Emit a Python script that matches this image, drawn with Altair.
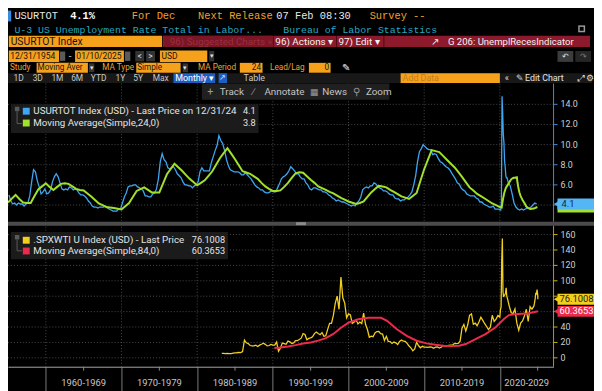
import altair as alt
import pandas as pd

# ------------------------------------------------------------------ data
# US unemployment rate (quarterly averages, %), 1955-2019
ur_years_q = list(range(1955, 2020))
ur_q = [
    [5.0, 4.4, 4.1, 4.2], [4.0, 4.2, 4.1, 4.1], [3.9, 4.1, 4.2, 4.9], [6.3, 7.5, 7.3, 6.4],
    [5.8, 5.1, 5.3, 5.6], [5.1, 5.2, 5.5, 6.3], [6.8, 7.1, 6.8, 6.2], [5.6, 5.5, 5.6, 5.5],
    [5.8, 5.7, 5.5, 5.6], [5.5, 5.2, 5.0, 5.0], [4.9, 4.7, 4.4, 4.2], [3.9, 3.8, 3.8, 3.7],
    [3.8, 3.8, 3.8, 3.9], [3.7, 3.6, 3.5, 3.4], [3.4, 3.4, 3.6, 3.6], [4.2, 4.8, 5.2, 5.8],
    [5.9, 5.9, 6.0, 6.0], [5.8, 5.7, 5.6, 5.4], [4.9, 4.9, 4.8, 4.8], [5.1, 5.2, 5.6, 6.6],
    [8.3, 9.1, 8.5, 8.3], [7.7, 7.6, 7.7, 7.8], [7.5, 7.1, 6.9, 6.7], [6.3, 6.0, 6.0, 5.9],
    [5.9, 5.7, 5.9, 6.0], [6.3, 7.3, 7.7, 7.4], [7.4, 7.4, 7.4, 8.2], [8.8, 9.4, 9.9, 10.9],
    [10.4, 10.1, 9.4, 8.5], [7.9, 7.5, 7.4, 7.3], [7.3, 7.3, 7.2, 7.0], [7.0, 7.2, 7.0, 6.8],
    [6.6, 6.3, 6.0, 5.8], [5.7, 5.5, 5.5, 5.3], [5.2, 5.2, 5.3, 5.4], [5.3, 5.3, 5.7, 6.1],
    [6.6, 6.8, 6.9, 7.1], [7.4, 7.8, 7.6, 7.4], [7.1, 7.1, 6.8, 6.6], [6.6, 6.2, 6.0, 5.6],
    [5.5, 5.7, 5.7, 5.6], [5.5, 5.5, 5.3, 5.3], [5.2, 5.0, 4.9, 4.7], [4.6, 4.4, 4.5, 4.4],
    [4.3, 4.3, 4.2, 4.1], [4.0, 3.9, 4.0, 3.9], [4.2, 4.4, 4.8, 5.5], [5.7, 5.8, 5.7, 5.9],
    [5.9, 6.2, 6.1, 5.8], [5.7, 5.6, 5.4, 5.4], [5.3, 5.1, 5.0, 5.0], [4.7, 4.6, 4.6, 4.4],
    [4.5, 4.5, 4.7, 4.8], [5.0, 5.3, 6.0, 6.9], [8.3, 9.3, 9.6, 10.0], [9.8, 9.6, 9.5, 9.5],
    [9.0, 9.1, 9.0, 8.6], [8.3, 8.2, 8.0, 7.8], [7.7, 7.5, 7.2, 6.9], [6.6, 6.2, 6.1, 5.7],
    [5.5, 5.4, 5.1, 5.0], [4.9, 4.9, 4.9, 4.7], [4.6, 4.3, 4.3, 4.1], [4.0, 3.9, 3.8, 3.8],
    [3.9, 3.6, 3.6, 3.6],
]
ur_2020_m = [3.5, 3.5, 4.4, 14.8, 13.2, 11.0, 10.2, 8.4, 7.8, 6.9, 6.7, 6.7]
ur_years_q2 = [2021, 2022, 2023, 2024]
ur_q2 = [[6.2, 5.9, 5.1, 4.2], [3.8, 3.6, 3.5, 3.6], [3.5, 3.6, 3.7, 3.7], [3.8, 4.0, 4.2, 4.1]]

# 24-month simple moving average of the unemployment rate (year, value)
ur_ma = [
    (1955.0, 4.25), (1955.5, 4.63), (1956.0, 5.0), (1956.5, 4.6), (1957.0, 4.25), (1957.5, 4.2),
    (1958.0, 4.2), (1958.5, 4.9), (1959.0, 5.55), (1959.5, 5.85), (1960.0, 6.15), (1960.5, 5.8),
    (1961.0, 5.5), (1961.5, 5.8), (1962.0, 6.1), (1962.5, 6.15), (1963.0, 6.1), (1963.5, 5.85),
    (1964.0, 5.6), (1964.5, 5.5), (1965.0, 5.45), (1965.5, 5.15), (1966.0, 4.85), (1966.5, 4.5),
    (1967.0, 4.15), (1967.5, 3.98), (1968.0, 3.8), (1968.5, 3.75), (1969.0, 3.7), (1969.5, 3.63),
    (1970.0, 3.55), (1970.5, 3.88), (1971.0, 4.2), (1971.5, 4.8), (1972.0, 5.4), (1972.5, 5.58),
    (1973.0, 5.75), (1973.5, 5.5), (1974.0, 5.25), (1974.5, 5.25), (1975.0, 5.25), (1975.5, 6.15),
    (1976.0, 7.05), (1976.5, 7.58), (1977.0, 8.1), (1977.5, 7.75), (1978.0, 7.4), (1978.5, 7.0),
    (1979.0, 6.6), (1979.5, 6.28), (1980.0, 5.95), (1980.5, 6.2), (1981.0, 6.45), (1981.5, 6.9),
    (1982.0, 7.35), (1982.5, 8.0), (1983.0, 8.65), (1983.5, 9.15), (1984.0, 9.65), (1984.5, 9.1),
    (1985.0, 8.55), (1985.5, 7.95), (1986.0, 7.35), (1986.5, 7.23), (1987.0, 7.1), (1987.5, 6.85),
    (1988.0, 6.6), (1988.5, 6.2), (1989.0, 5.85), (1989.5, 5.6), (1990.0, 5.4), (1990.5, 5.4),
    (1991.0, 5.45), (1991.5, 5.8), (1992.0, 6.2), (1992.5, 6.7), (1993.0, 7.15), (1993.5, 7.25),
    (1994.0, 7.2), (1994.5, 6.85), (1995.0, 6.5), (1995.5, 6.2), (1996.0, 5.85), (1996.5, 5.68),
    (1997.0, 5.5), (1997.5, 5.3), (1998.0, 5.15), (1998.5, 4.93), (1999.0, 4.7), (1999.5, 4.53),
    (2000.0, 4.35), (2000.5, 4.23), (2001.0, 4.1), (2001.5, 4.2), (2002.0, 4.35), (2002.5, 4.8),
    (2003.0, 5.25), (2003.5, 5.58), (2004.0, 5.9), (2004.5, 5.83), (2005.0, 5.75), (2005.5, 5.5),
    (2006.0, 5.3), (2006.5, 5.08), (2007.0, 4.85), (2007.5, 4.73), (2008.0, 4.6), (2008.5, 4.9),
    (2009.0, 5.2), (2009.5, 6.38), (2010.0, 7.55), (2010.5, 8.5), (2011.0, 9.45), (2011.5, 9.35),
    (2012.0, 9.25), (2012.5, 8.88), (2013.0, 8.5), (2013.5, 8.13), (2014.0, 7.75), (2014.5, 7.28),
    (2015.0, 6.8), (2015.5, 6.28), (2016.0, 5.75), (2016.5, 5.43), (2017.0, 5.1), (2017.5, 4.88),
    (2018.0, 4.65), (2018.5, 4.4), (2019.0, 4.15), (2019.5, 3.98), (2020.0, 3.8), (2020.25, 3.75),
    (2020.33, 4.2), (2020.42, 4.6), (2020.5, 4.9), (2020.58, 5.2), (2020.67, 5.4), (2020.75, 5.6),
    (2020.83, 5.75), (2020.92, 5.85), (2021.0, 5.95), (2021.17, 6.15), (2021.33, 6.35),
    (2021.5, 6.55), (2021.67, 6.65), (2021.83, 6.7), (2022.0, 6.7), (2022.25, 6.75),
    (2022.33, 6.26), (2022.42, 5.86), (2022.5, 5.55), (2022.58, 5.27), (2022.67, 5.07),
    (2022.75, 4.89), (2022.83, 4.76), (2022.92, 4.63), (2023.0, 4.5), (2023.25, 4.2),
    (2023.5, 3.85), (2023.75, 3.7), (2024.0, 3.6), (2024.5, 3.65), (2024.96, 3.8),
]

# .SPXWTI (S&P 500 priced in WTI barrels), quarter-end values 1983-2019
oil_years_q = list(range(1983, 2020))
oil_q = [
    [5.8, 5.9, 5.6, 5.8], [5.6, 5.5, 6.0, 6.3], [6.6, 7.1, 6.8, 8.0], [23.0, 19.5, 18.5, 16.0],
    [15.5, 15.5, 16.4, 14.8], [16.5, 17.6, 19.0, 17.5], [15.5, 16.0, 17.5, 16.5], [16.6, 20.5, 8.5, 12.5],
    [19.2, 18.4, 17.6, 21.7], [20.7, 18.5, 19.3, 22.4], [22.3, 23.7, 25.5, 31.5], [30.3, 23.5, 25.2, 26.0],
    [27.2, 31.5, 33.4, 31.6], [30.0, 32.8, 28.0, 28.6], [37.0, 44.7, 44.7, 55.0], [70.6, 80.0, 63.0, 105.0],
    [78.0, 71.0, 52.0, 57.0], [55.7, 44.8, 46.6, 49.3], [44.0, 46.5, 44.5, 58.0], [43.6, 36.8, 26.7, 28.2],
    [27.4, 32.3, 34.1, 34.2], [31.4, 30.8, 22.5, 27.9], [21.4, 21.1, 18.6, 20.5], [19.4, 17.2, 21.2, 23.2],
    [21.6, 21.3, 18.7, 15.3], [13.0, 9.1, 11.6, 20.2], [16.0, 13.1, 15.0, 14.0], [14.0, 13.6, 14.3, 13.8],
    [12.4, 13.8, 14.3, 12.7], [13.7, 16.0, 15.6, 15.5], [16.1, 16.6, 16.4, 18.8], [18.4, 18.6, 21.6, 38.6],
    [43.4, 34.7, 42.6, 55.2], [57.0, 43.5, 45.0, 41.7], [46.7, 52.7, 48.7, 44.3], [40.7, 36.6, 39.8, 55.2],
    [47.2, 50.3, 55.0, 52.9],
]
oil_2020_m = [62.5, 66.0, 126.0, 155.0, 85.7, 78.9, 81.0, 82.0, 83.6, 91.0, 80.0, 77.4]
oil_years_q2 = [2021, 2022, 2023]
oil_q2 = [[67.0, 58.5, 57.4, 63.4], [45.0, 35.8, 45.0, 47.8], [54.3, 63.0, 47.2, 66.5]]
oil_2024 = [(2024.25, 63.2), (2024.5, 67.0), (2024.58, 70.9), (2024.67, 76.8), (2024.75, 84.5),
            (2024.83, 82.3), (2024.92, 88.7), (2025.0, 82.0), (2025.03, 76.1)]

# 84-month simple moving average of .SPXWTI
oil_ma = [
    (1990.2, 12.8), (1991.0, 13.5), (1992.0, 14.8), (1993.0, 16.5), (1994.0, 18.5), (1995.0, 20.0),
    (1996.0, 22.3), (1997.0, 25.5), (1998.0, 31.0), (1999.0, 39.0), (2000.0, 45.7), (2001.3, 50.0),
    (2002.6, 52.0), (2004.3, 52.0), (2005.1, 48.0), (2006.4, 37.0), (2007.7, 28.6), (2009.0, 22.2),
    (2010.3, 18.8), (2011.5, 17.0), (2012.5, 15.8), (2013.5, 15.3), (2014.6, 15.8), (2015.5, 17.9),
    (2016.8, 24.3), (2018.1, 30.7), (2019.4, 39.3), (2020.5, 50.0), (2021.2, 55.5), (2022.0, 56.5),
    (2022.9, 57.2), (2023.7, 57.5), (2025.03, 60.37),
]

top_ticks = [4, 6, 8, 10, 12, 14]
top_labels = [6, 8, 10, 12, 14]          # 4.0 is hidden behind the last-price tag
bot_ticks = [0, 20, 40, 60, 80, 100, 120, 140, 160]
bot_labels = [0, 20, 40, 100, 120, 140, 160]   # 60 and 80 hidden behind tags
decades = [1960, 1970, 1980, 1990, 2000, 2010, 2020]
mid_decades = [1965, 1975, 1985, 1995, 2005, 2015, 2025]
decade_labels = ['1960-1969', '1970-1979', '1980-1989', '1990-1999', '2000-2009', '2010-2019', '2020-2029']
decade_label_pos = [1965, 1975, 1985, 1995, 2005, 2015, 2023.55]

# ------------------------------------------------------------------ frames
rows = []
for yr, qs in zip(ur_years_q, ur_q):
    for i, v in enumerate(qs):
        rows.append((yr + 0.125 + 0.25 * i, v))
for m, v in enumerate(ur_2020_m):
    rows.append((2020 + (m + 0.5) / 12, v))
for yr, qs in zip(ur_years_q2, ur_q2):
    for i, v in enumerate(qs):
        rows.append((yr + 0.125 + 0.25 * i, v))
ur_df = pd.DataFrame(rows, columns=['t', 'v'])
ur_ma_df = pd.DataFrame(ur_ma, columns=['t', 'v'])

rows = []
for yr, qs in zip(oil_years_q, oil_q):
    for i, v in enumerate(qs):
        rows.append((yr + 0.25 * (i + 1), v))
for m, v in enumerate(oil_2020_m):
    rows.append((2020 + (m + 1) / 12, v))
for yr, qs in zip(oil_years_q2, oil_q2):
    for i, v in enumerate(qs):
        rows.append((yr + 0.25 * (i + 1), v))
rows += oil_2024
oil_df = pd.DataFrame(rows, columns=['t', 'v'])
oil_ma_df = pd.DataFrame(oil_ma, columns=['t', 'v'])

# ------------------------------------------------------------------ style
W, H = 553, 361
OX, OY = 5, 4
SANS = 'Roboto, "Liberation Sans", sans-serif'
MONO = '"Liberation Mono", "DejaVu Sans Mono", monospace'
ORANGE = '#f6a11c'
ORTXT = '#f0a12e'
BLUE = '#3ea6f2'
GREEN = '#a2e02c'
YELLOW = '#f2cf1d'
RED = '#ec2a4c'
dummy = pd.DataFrame({'k': [0]})


def box(x1, y1, x2, y2, color, opacity=1.0):
    return alt.Chart(dummy).mark_rect(color=color, opacity=opacity).encode(
        x=alt.value(x1 - OX), x2=alt.value(x2 - OX), y=alt.value(y1 - OY), y2=alt.value(y2 - OY))


def seg(x1, y1, x2, y2, color, width=1.0):
    return alt.Chart(dummy).mark_rule(color=color, strokeWidth=width).encode(
        x=alt.value(x1 - OX), x2=alt.value(x2 - OX), y=alt.value(y1 - OY), y2=alt.value(y2 - OY))


def txt(x, y, text, color, size=10, font=SANS, weight='normal', align='left'):
    return alt.Chart(dummy).mark_text(text=text, color=color, fontSize=size, font=font,
                                      fontWeight=weight, align=align, baseline='middle').encode(
        x=alt.value(x - OX), y=alt.value(y - OY))


xsc = alt.Scale(domain=[1955.0, 2027.1], nice=False, zero=False)
xax = alt.Axis(values=decades, labels=False, tickSize=26, grid=False, title='',
               domainColor='#a8a8a8', tickColor='#7c7c7c', domainWidth=1, tickWidth=1)


def X():
    return alt.X('t:Q', scale=xsc, axis=xax)


ytop = alt.Scale(domain=[2, 16], range=[217.5, 74.6], nice=False, zero=False)
ybot = alt.Scale(domain=[0, 160], range=[352, 227.04], nice=False, zero=False)


def YT():
    return alt.Y('v:Q', scale=ytop, axis=None)


def YB():
    return alt.Y('v:Q', scale=ybot, axis=None)


GRID = '#4a4a4a'
dec_df = pd.DataFrame({'t': decades})

# ------------------------------------------------------------------ top panel
top_tick_df = pd.DataFrame({'v': top_ticks})
top_lab_df = pd.DataFrame({'v': top_labels})
top_tags = pd.DataFrame({'v': [3.8, 4.1], 'c': [GREEN, '#55b6f6']})
top = alt.layer(
    alt.Chart(top_tick_df).mark_rule(color=GRID, strokeDash=[1, 2]).encode(
        y=YT(), x=alt.value(0), x2=alt.value(W)),
    alt.Chart(dec_df).mark_rule(color=GRID, strokeDash=[1, 2]).encode(
        x=X(), y=alt.value(74), y2=alt.value(214)),
    alt.Chart(ur_df).mark_line(color=BLUE, strokeWidth=1.3).encode(x=X(), y=YT()),
    alt.Chart(ur_ma_df).mark_line(color=GREEN, strokeWidth=2).encode(x=X(), y=YT()),
    alt.Chart(dummy).mark_rule(color='#3b8de0').encode(
        x=alt.value(W), y=alt.value(74), y2=alt.value(214)),
    alt.Chart(top_tick_df).mark_rule(color='#3b8de0').encode(
        y=YT(), x=alt.value(W), x2=alt.value(W + 4)),
    alt.Chart(top_lab_df).mark_text(align='left', baseline='middle', fontSize=9,
                                    font=SANS, color='#cfcfcf').encode(
        y=YT(), x=alt.value(W + 7), text=alt.Text('v:Q', format='.1f')),
    alt.Chart(top_tags).mark_rect(yOffset=-5.5, y2Offset=5.5).encode(
        y=YT(), y2=alt.Y2('v:Q'), x=alt.value(W + 4), x2=alt.value(W + 42),
        color=alt.Color('c:N', scale=None)),
    alt.Chart(top_tags.tail(1)).mark_point(shape='triangle-left', filled=True, size=40,
                                           opacity=1, color='#55b6f6').encode(
        y=YT(), x=alt.value(W + 3)),
    alt.Chart(top_tags.tail(1)).mark_text(align='left', baseline='middle', fontSize=9.5,
                                          font=SANS, color='#0c2c4c').encode(
        y=YT(), x=alt.value(W + 8), text=alt.value('4.1')),
)

# ------------------------------------------------------------------ bottom panel
bot_tick_df = pd.DataFrame({'v': bot_ticks})
bot_lab_df = pd.DataFrame({'v': bot_labels})
bot_tags = pd.DataFrame({'v': [76.1008, 60.3653], 'c': [YELLOW, RED],
                         'lab': ['76.1008', '60.3653'], 'tc': ['#1a1a1a', '#ffffff']})
bottom = alt.layer(
    alt.Chart(bot_tick_df).mark_rule(color=GRID, strokeDash=[1, 2]).encode(
        y=YB(), x=alt.value(0), x2=alt.value(W)),
    alt.Chart(dec_df).mark_rule(color=GRID, strokeDash=[1, 2]).encode(
        x=X(), y=alt.value(219), y2=alt.value(H)),
    alt.Chart(oil_df).mark_line(color=YELLOW, strokeWidth=1.3).encode(x=X(), y=YB()),
    alt.Chart(oil_ma_df).mark_line(color=RED, strokeWidth=2).encode(x=X(), y=YB()),
    alt.Chart(dummy).mark_rule(color='#b89c00').encode(
        x=alt.value(W), y=alt.value(218), y2=alt.value(H)),
    alt.Chart(bot_tick_df).mark_rule(color='#d2b300').encode(
        y=YB(), x=alt.value(W), x2=alt.value(W + 4)),
    alt.Chart(bot_lab_df).mark_text(align='left', baseline='middle', fontSize=9,
                                    font=SANS, color='#cfcfcf').encode(
        y=YB(), x=alt.value(W + 7), text=alt.Text('v:Q', format='d')),
    alt.Chart(bot_tags).mark_rect(yOffset=-5.5, y2Offset=5.5).encode(
        y=YB(), y2=alt.Y2('v:Q'), x=alt.value(W + 4), x2=alt.value(W + 42),
        color=alt.Color('c:N', scale=None)),
    alt.Chart(bot_tags).mark_point(shape='triangle-left', filled=True, size=40, opacity=1).encode(
        y=YB(), x=alt.value(W + 3), color=alt.Color('c:N', scale=None)),
    alt.Chart(bot_tags).mark_text(align='left', baseline='middle', fontSize=9.5, font=SANS).encode(
        y=YB(), x=alt.value(W + 6), text='lab:N', color=alt.Color('tc:N', scale=None)),
)

# ------------------------------------------------------------------ x axis extras
xextra = [
    alt.Chart(pd.DataFrame({'t': mid_decades})).mark_rule(color='#8a8a8a').encode(
        x=X(), y=alt.value(H), y2=alt.value(H + 4)),
    alt.Chart(pd.DataFrame({'t': decade_label_pos, 'lab': decade_labels})).mark_text(
        fontSize=9.5, font=SANS, color='#c8c8c8', baseline='middle').encode(
        x=X(), y=alt.value(378), text='lab:N'),
]

# ------------------------------------------------------------------ separator + legends
sep = [box(0, 218, 602, 222, '#4b4b4b'), box(297, 218.5, 307, 221.5, '#8c8c8c')]

LEG = 9.9
LEGV = 9.3
leg = [
    box(8, 99, 259, 128, '#1c1c1c', 0.95),
    box(12, 101.5, 16.5, 106, '#5a5a5a'),
    seg(14.2, 106, 14.2, 118.5, '#5a5a5a'), seg(14.2, 118.5, 19, 118.5, '#5a5a5a'),
    box(20, 102.5, 27, 109.5, BLUE),
    txt(30.7, 106.3, 'USURTOT Index (USD) - Last Price on 12/31/24', '#e4e4e4', LEG),
    txt(256, 106.3, '4.1', '#e4e4e4', LEGV, align='right'),
    box(20, 114.5, 27, 121.5, GREEN),
    txt(30.7, 118.5, 'Moving Average(Simple,24,0)', '#e4e4e4', LEG),
    txt(256, 118.5, '3.8', '#e4e4e4', LEGV, align='right'),

    box(8, 228.5, 228, 256, '#1c1c1c', 0.95),
    box(12, 231.5, 16.5, 236, '#5a5a5a'),
    seg(14.2, 236, 14.2, 247.5, '#5a5a5a'), seg(14.2, 247.5, 19, 247.5, '#5a5a5a'),
    box(20, 233.3, 27, 240.3, YELLOW),
    txt(30.7, 236.8, '.SPXWTI U Index (USD) - Last Price', '#e4e4e4', LEG),
    txt(225, 236.8, '76.1008', '#e4e4e4', LEGV, align='right'),
    box(20, 244.2, 27, 251.2, RED),
    txt(30.7, 247.7, 'Moving Average(Simple,84,0)', '#e4e4e4', LEG),
    txt(225, 247.7, '60.3653', '#e4e4e4', LEGV, align='right'),
]

# ------------------------------------------------------------------ header (terminal chrome)
F = 8.6   # small UI font inside boxes
FL = 8.3  # orange field labels
hdr = [
    box(4.6, 4, 8.2, 15, '#3b8be0'),
    txt(11.5, 9.8, 'USURTOT', '#e8e8e8', 10.5, MONO),
    txt(68, 9.8, '4.1%', '#ffffff', 10.5, MONO, 'bold'),
    txt(130.5, 9.8, 'For Dec', ORTXT, 10.5, MONO),
    txt(197.7, 9.8, 'Next Release', ORTXT, 10.5, MONO),
    txt(277, 9.8, '07 Feb 08:30', '#e8e8e8', 10.5, MONO),
    txt(371.6, 9.8, 'Survey --', ORTXT, 10.5, MONO),
    txt(11.5, 23.3, 'U-3 US Unemployment Rate Total in Labor...', '#27a8c2', 10, MONO),
    txt(284, 23.3, 'Bureau of Labor Statistics', '#27a8c2', 10, MONO),
    box(583, 19, 590, 26, '#9a9a9a'), box(584.5, 20.5, 588.5, 24.5, '#000000'),
    # row 3
    box(5.8, 29.5, 161.2, 41, ORANGE),
    txt(7.7, 35.5, 'USURTOT Index', '#141414', 10.5),
    box(162, 29.5, 595, 41, '#8c1a2c'),
    box(163, 29.5, 273, 41, '#7c1526'),
    txt(169, 35.5, '96) Suggested Charts »', '#98303f', 10),
    seg(274, 29.5, 274, 41, '#4e0a15'), seg(338, 29.5, 338, 41, '#4e0a15'),
    seg(386, 29.5, 386, 41, '#4e0a15'),
    txt(276, 35.5, '96) Actions ▾', '#f2f2f2', 10),
    txt(340, 35.5, '97) Edit ▾', '#f2f2f2', 10),
    txt(434, 35.5, '↗', '#f2f2f2', 10),
    txt(451, 35.5, 'G 206: UnemplRecesIndicator', '#f2f2f2', 9.7),
    # row 4
    box(5.8, 44.5, 56.8, 56, ORANGE), txt(7.3, 50.5, '12/31/1954', '#141414', F),
    box(57.6, 45.5, 63, 55, '#5a5a5a'),
    txt(66.5, 50.5, '-', '#dddddd', 10),
    box(73, 44.5, 122.5, 56, ORANGE), txt(74.3, 50.5, '01/10/2025', '#141414', F),
    box(123.5, 45.5, 129, 55, '#5a5a5a'),
    box(134, 45, 143, 55.5, '#333333'), txt(138.5, 50.5, '<', '#dddddd', F, align='center'),
    box(145, 45, 154, 55.5, '#333333'), txt(149.5, 50.5, '>', '#dddddd', F, align='center'),
    box(159, 44.5, 207, 56, ORANGE), txt(160.5, 50.5, 'USD', '#141414', F),
    box(209, 45, 214, 55.5, '#333333'), txt(211.5, 50.5, '▾', '#dddddd', 7, align='center'),
    box(562, 45, 578, 56, '#3c3c3c'), txt(570, 50.5, '↶', '#dddddd', F, align='center'),
    box(580, 45, 596, 56, '#262626'), txt(588, 50.5, '↷', '#777777', F, align='center'),
    # row 5
    txt(7, 62, 'Study', ORTXT, FL),
    box(34, 57, 86, 67, ORANGE), txt(35, 62, 'Moving Aver', '#141414', FL),
    box(87, 57.5, 92.5, 66.5, '#333333'), txt(89.7, 62, '▾', '#dddddd', 7, align='center'),
    txt(100.6, 62, 'MA Type', ORTXT, FL),
    box(135, 57, 180, 67, ORANGE), txt(136, 62, 'Simple', '#141414', FL),
    box(182, 57.5, 187.5, 66.5, '#333333'), txt(184.7, 62, '▾', '#dddddd', 7, align='center'),
    txt(197.7, 62, 'MA Period', ORTXT, FL),
    box(240, 57, 263, 67, ORANGE), txt(261.5, 62, '24', '#141414', FL, align='right'),
    txt(270.6, 62, 'Lead/Lag', ORTXT, FL),
    box(310, 57, 332, 67, ORANGE), txt(330.5, 62, '0', '#141414', FL, align='right'),
    txt(343.6, 62, '✎', '#eeeeee', 10),
    # row 6
    box(5, 67.5, 597, 77.5, '#181818'),
    txt(10.7, 72.5, '1D', '#c8c8c8', 8.5), txt(30, 72.5, '3D', '#c8c8c8', 8.5),
    txt(49, 72.5, '1M', '#c8c8c8', 8.5), txt(69, 72.5, '6M', '#c8c8c8', 8.5),
    txt(89, 72.5, 'YTD', '#c8c8c8', 8.5), txt(114, 72.5, '1Y', '#c8c8c8', 8.5),
    txt(132, 72.5, '5Y', '#c8c8c8', 8.5), txt(151.6, 72.5, 'Max', '#c8c8c8', 8.5),
    box(172.7, 67.5, 215, 77.5, '#1d5fc0'), txt(174.5, 72.5, 'Monthly ▾', '#ffffff', 9),
    box(218.5, 67.5, 227, 77.5, '#1d5fc0'), txt(222.7, 72.5, '↗', '#cfe0ff', 8, align='center'),
    txt(243.8, 72.5, 'Table', '#c8c8c8', 9),
    box(403, 67.5, 503.6, 77.5, ORANGE), txt(405, 72.5, 'Add Data', '#c47f1c', 9),
    txt(508.6, 72.5, '«', '#dddddd', 9), txt(520, 72.5, '✎', '#dddddd', 9),
    txt(529, 72.5, 'Edit Chart', '#e4e4e4', 9),
    txt(583, 72.5, '⤢', '#dddddd', 9), txt(591, 72.5, '⚙', '#dddddd', 9),
    # row 7 (chart toolbar)
    box(201.5, 78, 391.6, 94.5, '#202020'),
    txt(207, 86.3, '+', '#9a9a9a', 11), txt(219.6, 86.3, 'Track', '#c4c4c4', 10),
    txt(253, 86.3, '∕', '#9a9a9a', 10), txt(264.9, 86.3, 'Annotate', '#c4c4c4', 10),
    txt(311, 86.3, '▦', '#9a9a9a', 9), txt(323.6, 86.3, 'News', '#c4c4c4', 10),
    txt(355, 86.3, '⚲', '#9a9a9a', 10), txt(367.8, 86.3, 'Zoom', '#c4c4c4', 10),
]

chart = alt.layer(top, bottom, *xextra, *sep, *leg, *hdr).resolve_scale(
    y='independent'
).properties(
    width=W, height=H, background='#000000',
    padding={'left': 0, 'top': 0, 'right': 41, 'bottom': 22},
    autosize=alt.AutoSizeParams(type='none'),
).configure_view(strokeWidth=0)

chart.save('out.html', embed_options={'renderer': 'svg', 'actions': False})
